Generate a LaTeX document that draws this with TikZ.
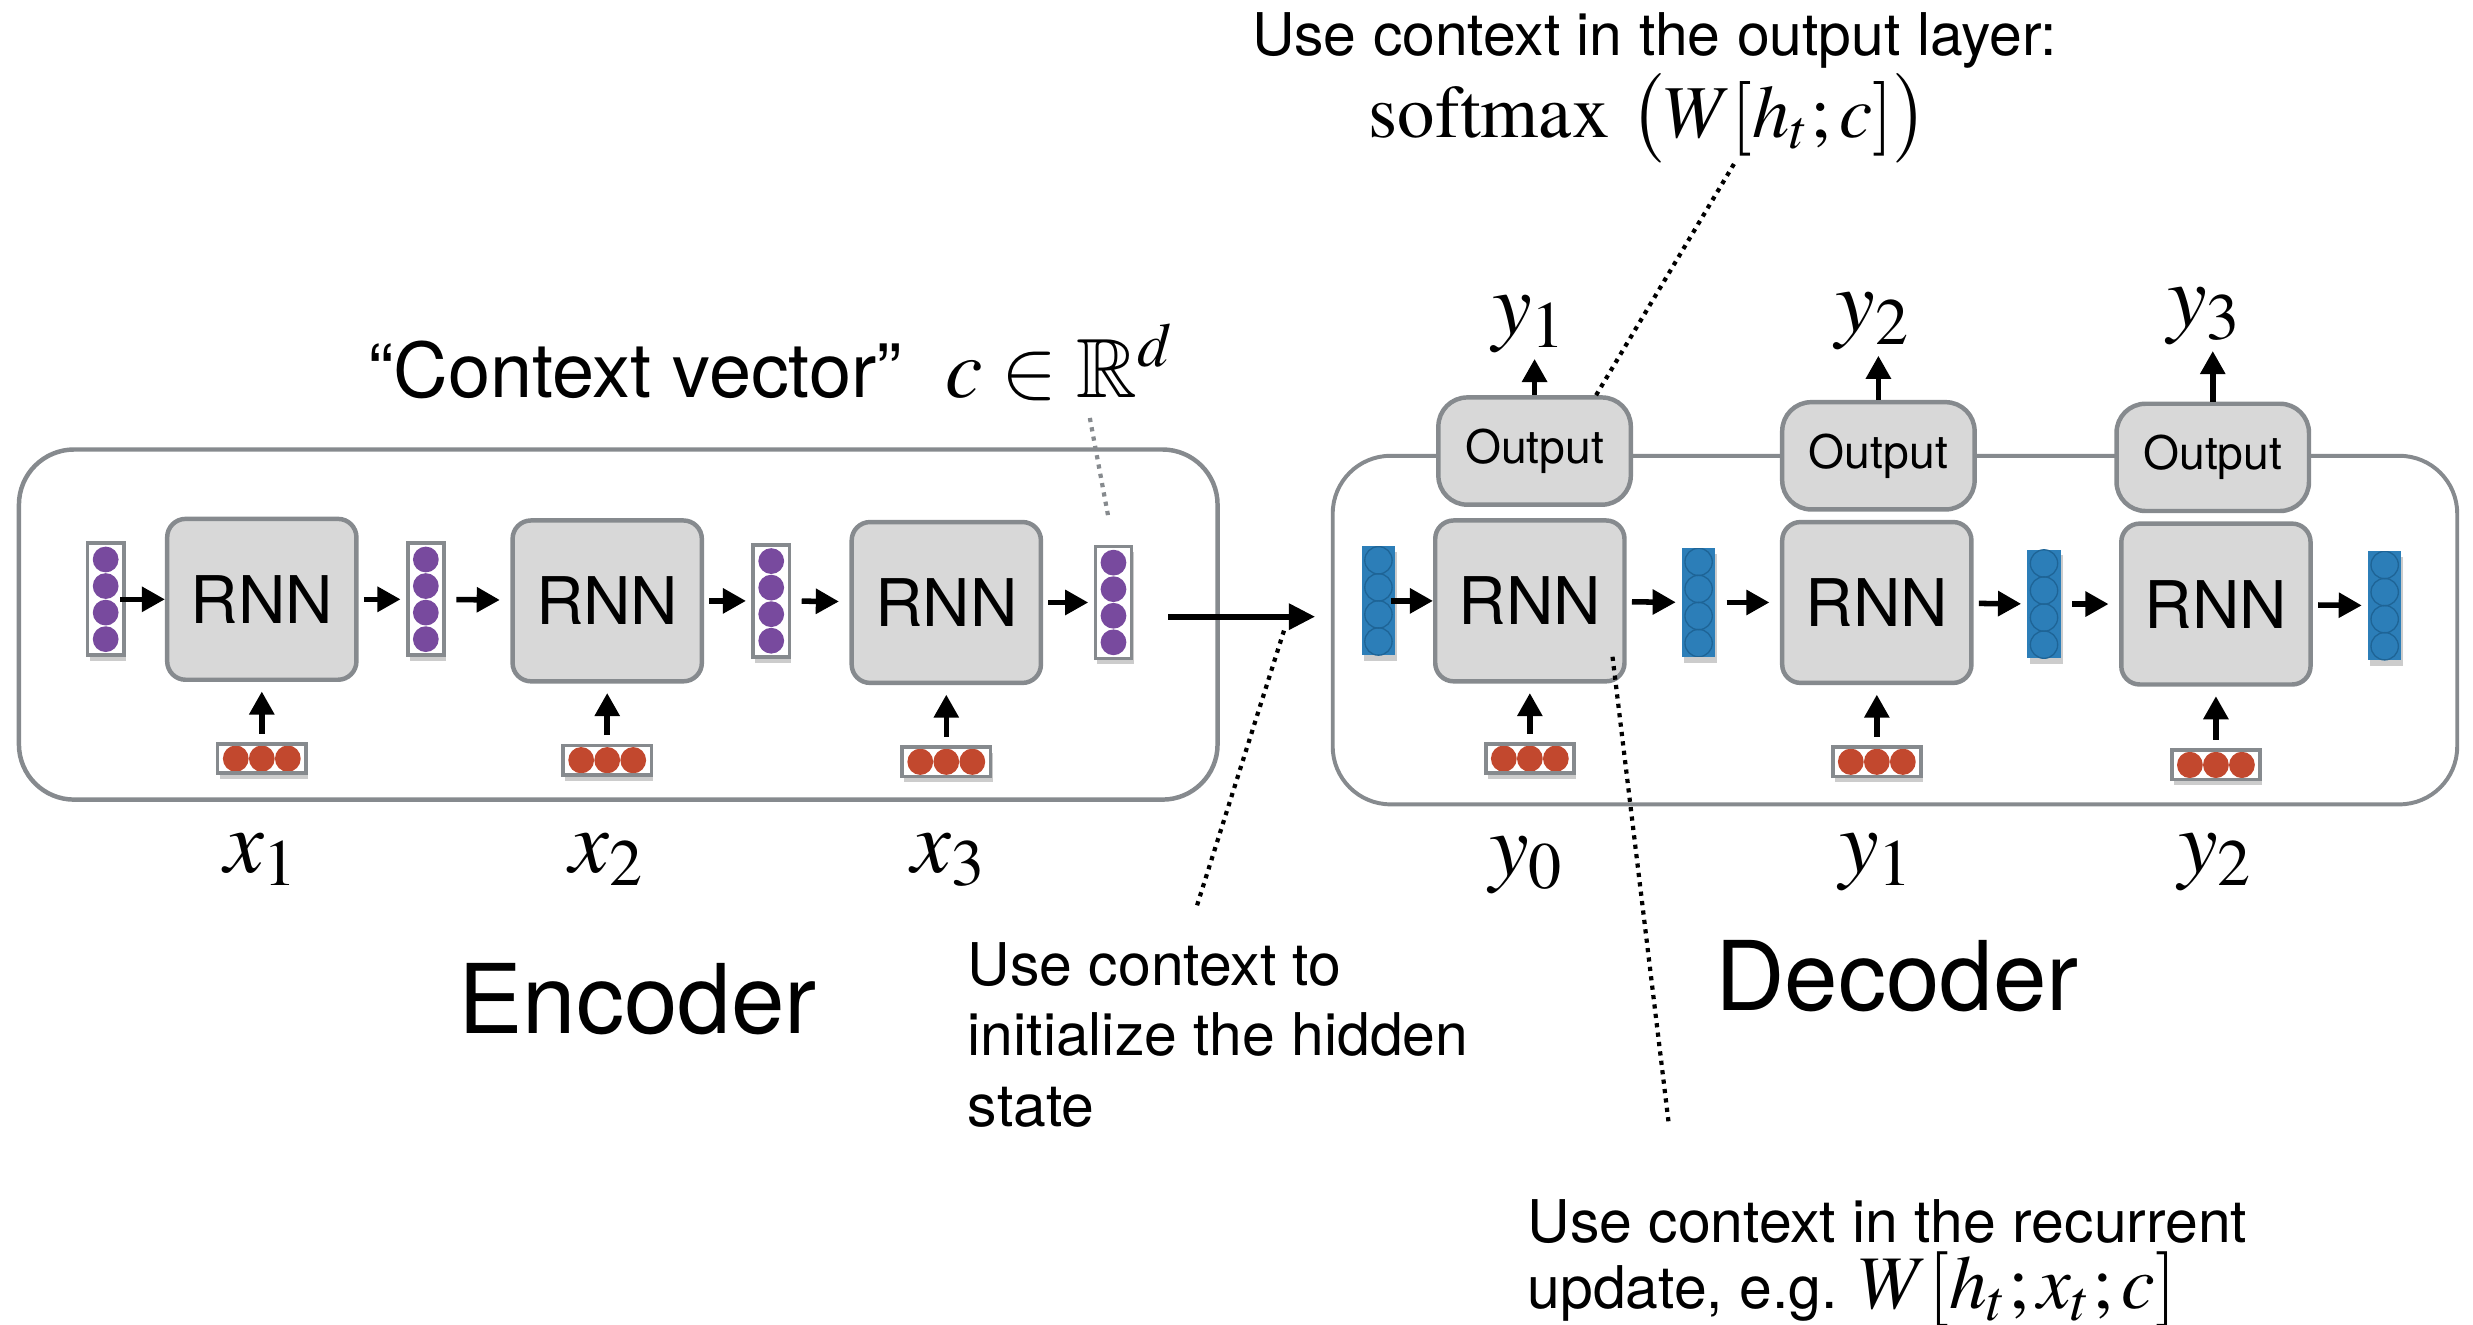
\documentclass[tikz,border=0pt]{standalone}
\usepackage{mathptmx}
\usepackage{amssymb}
\usepackage[no-math]{fontspec}
\setmainfont{TeX Gyre Heros}
\usetikzlibrary{arrows.meta,calc,shadows}

\definecolor{frameg}{RGB}{134,138,142}
\definecolor{boxg}{RGB}{216,216,216}
\definecolor{vpurple}{RGB}{120,74,158}
\definecolor{vred}{RGB}{194,72,46}
\definecolor{vblue}{RGB}{44,126,184}
\definecolor{vblueline}{RGB}{30,100,150}

\begin{document}
\begin{tikzpicture}[x=0.3pt,y=-0.3pt,
  frame/.style={draw=frameg,line width=0.85pt,rounded corners=10.5pt,inner sep=0pt},
  rnnbox/.style={draw=frameg,line width=0.85pt,fill=boxg,rounded corners=3.5pt,
    minimum width=36pt,minimum height=30.6pt,inner sep=0pt,font=\fontsize{12.5}{14}\selectfont},
  outbox/.style={draw=frameg,line width=0.85pt,fill=boxg,rounded corners=5.5pt,
    minimum width=36.6pt,minimum height=20.4pt,inner sep=0pt,font=\fontsize{8.8}{10}\selectfont},
  vshadow/.style={drop shadow={shadow xshift=0.4pt,shadow yshift=-1.1pt,opacity=0.2,fill=black}},
  pvec/.style={draw=frameg,line width=0.7pt,fill=white,minimum width=6.9pt,minimum height=21.3pt,
    inner sep=0pt,vshadow,
    path picture={\foreach \k in {0,...,3}{\fill[vpurple] ($(path picture bounding box.center)+(0pt,{(\k-1.5)*5.05pt})$) circle (2.45pt);}}},
  rvec/.style={draw=frameg,line width=0.7pt,fill=white,minimum width=16.8pt,minimum height=5.6pt,
    inner sep=0pt,vshadow,
    path picture={\foreach \k in {0,...,2}{\fill[vred] ($(path picture bounding box.center)+({(\k-1)*4.95pt},0pt)$) ellipse (2.45pt and 2.5pt);}}},
  bvec/.style={fill=vblue,minimum width=6.3pt,minimum height=20.7pt,inner sep=0pt,vshadow,
    path picture={\foreach \k in {0,...,3}{\draw[vblueline,line width=0.25pt] ($(path picture bounding box.center)+(0pt,{(\k-1.5)*5.15pt})$) circle (2.6pt);}}},
  arr/.style={-{Triangle[length=4.4pt,width=4.6pt]},line width=1.05pt},
  bigarr/.style={-{Triangle[length=5pt,width=4.8pt]},line width=1.1pt},
  mlabel/.style={font=\fontsize{17}{20}\selectfont,inner sep=0pt},
  note/.style={font=\fontsize{11.2}{13.4}\selectfont,inner sep=0pt},
  dots/.style={line width=0.8pt,dash pattern=on 0.8pt off 1pt},
]
\useasboundingbox (0,0) rectangle (1568,840);

% outer frames
\node[frame,minimum width=228pt,minimum height=66.6pt] (encframe) at (392,396) {};
\node[frame,line width=0.75pt,rounded corners=11pt,minimum width=213.9pt,minimum height=66.3pt] (decframe) at (1201.5,399.5) {};

% ---------------- encoder ----------------
\node[pvec] (e0) at (67,380) {};
\node[rnnbox] (er1) at (166,380) {RNN};
\node[pvec] (e1) at (270,380) {};
\node[rnnbox] (er2) at (385,381) {RNN};
\node[pvec] (e2) at (489,381) {};
\node[rnnbox] (er3) at (600,382) {RNN};
\node[pvec] (e3) at (706,382) {};

\node[rvec] (ex1) at (166,481) {};
\node[rvec] (ex2) at (385,482) {};
\node[rvec] (ex3) at (600,483) {};

\draw[arr,shorten <=-1pt] (e0) -- (er1);
\draw[arr,shorten <=1pt,shorten >=1pt] (er1) -- (e1);
\draw[arr,shorten <=2pt,shorten >=2pt] (e1) -- (er2);
\draw[arr,shorten <=1pt,shorten >=1pt] (er2) -- (e2);
\draw[arr,shorten <=2pt,shorten >=2pt] (e2) -- (er3);
\draw[arr,shorten <=1pt,shorten >=1pt] (er3) -- (e3);
\foreach \i in {1,2,3}{\draw[arr,shorten <=1.6pt,shorten >=1.8pt] (ex\i) -- (er\i);}

\node[mlabel,anchor=base] (lx1) at (166,553) {$x_1$};
\node[mlabel,anchor=base] (lx2) at (385,553) {$x_2$};
\node[mlabel,anchor=base] (lx3) at (602,553) {$x_3$};

% ---------------- decoder ----------------
\node[bvec] (d0) at (874,381) {};
\node[rnnbox] (dr1) at (970,381) {RNN};
\node[bvec] (d1) at (1077,382) {};
\node[rnnbox] (dr2) at (1190,382) {RNN};
\node[bvec] (d2) at (1296,383) {};
\node[rnnbox] (dr3) at (1405,383) {RNN};
\node[bvec] (d3) at (1512,384) {};

\node[rvec] (dx1) at (970,481) {};
\node[rvec] (dx2) at (1190,483) {};
\node[rvec] (dx3) at (1405,485) {};

\node[outbox] (o1) at (973,286) {Output};
\node[outbox] (o2) at (1191,289) {Output};
\node[outbox] (o3) at (1403,290) {Output};

\draw[arr,shorten <=-1pt] (d0) -- (dr1);
\draw[arr,shorten <=1pt,shorten >=1pt] (dr1) -- (d1);
\draw[arr,shorten <=2pt,shorten >=2pt] (d1) -- (dr2);
\draw[arr,shorten <=1pt,shorten >=1pt] (dr2) -- (d2);
\draw[arr,shorten <=2pt,shorten >=2pt] (d2) -- (dr3);
\draw[arr,shorten <=1pt,shorten >=1pt] (dr3) -- (d3);
\foreach \i in {1,2,3}{\draw[arr,shorten <=1.6pt,shorten >=1.8pt] (dx\i) -- (dr\i);}

\node[mlabel,anchor=base] (ty1) at (970,212) {$y_1$};
\node[mlabel,anchor=base] (ty2) at (1188,210) {$y_2$};
\node[mlabel,anchor=base] (ty3) at (1398,207) {$y_3$};
\foreach \i in {1,2,3}{\draw[arr,shorten >=1pt] (o\i.north) -- (o\i.north |- ty\i.south);}

\node[mlabel,anchor=base] (by0) at (968,555) {$y_0$};
\node[mlabel,anchor=base] (by1) at (1190,553) {$y_1$};
\node[mlabel,anchor=base] (by2) at (1405,553) {$y_2$};

% encoder state handed to the decoder
\draw[bigarr,shorten <=6.6pt,shorten >=8.7pt] ([yshift=-2.7pt]e3.east) -- ([yshift=-2.7pt]e3.east -| d0.west);

% ---------------- titles and notes ----------------
\node[anchor=base west,inner sep=0pt,font=\fontsize{18.3}{22}\selectfont] (enc) at (290,655) {Encoder};
\node[anchor=base west,inner sep=0pt,font=\fontsize{18.3}{22}\selectfont] (dec) at (1087,641) {Decoder};

\node[anchor=base west,inner sep=0pt,font=\fontsize{14.4}{17}\selectfont] (ctxlabel) at (233,252) {“Context vector”};
\node[anchor=base west,inner sep=0pt,font=\fontsize{16}{19}\selectfont] (ctxmath) at (599,252) {$c\in\mathbb{R}^d$};

\node[note,anchor=base] (outnote) at (1049,35) {Use context in the output layer:};
\node[anchor=base,inner sep=0pt,font=\fontsize{14.2}{17}\selectfont] (outeq) at (1045,87) {$\mathrm{softmax}\ \bigl(W[h_t;c]\bigr)$};

\node[note,anchor=north west,align=left] (initnote) at (613,597) {Use context to\\initialize the hidden\\state};

\node[note,anchor=north west,align=left,font=\fontsize{11.2}{12.6}\selectfont] (recnote) at (968,760)
  {Use context in the recurrent\\update, e.g. {\fontsize{14.4}{17}\selectfont\smash{$W[h_t;x_t;c]$}}};

% annotation leaders
\coordinate (ctxfoot) at (691,265);
\coordinate (initfoot) at (759,574);
\coordinate (initend) at (815,397);
\coordinate (outfoot) at (1100,103);
\coordinate (recfoot) at (1058,712);

\draw[dots,draw=frameg,shorten >=4.8pt] (ctxfoot) -- (e3.north);
\draw[dots] (initfoot) -- (initend);
\draw[dots] ([xshift=11.7pt]o1.north) -- (outfoot);
\draw[dots] ([shift={(-2.7pt,5.1pt)}]dr1.south east) -- (recfoot);
\end{tikzpicture}
\end{document}
